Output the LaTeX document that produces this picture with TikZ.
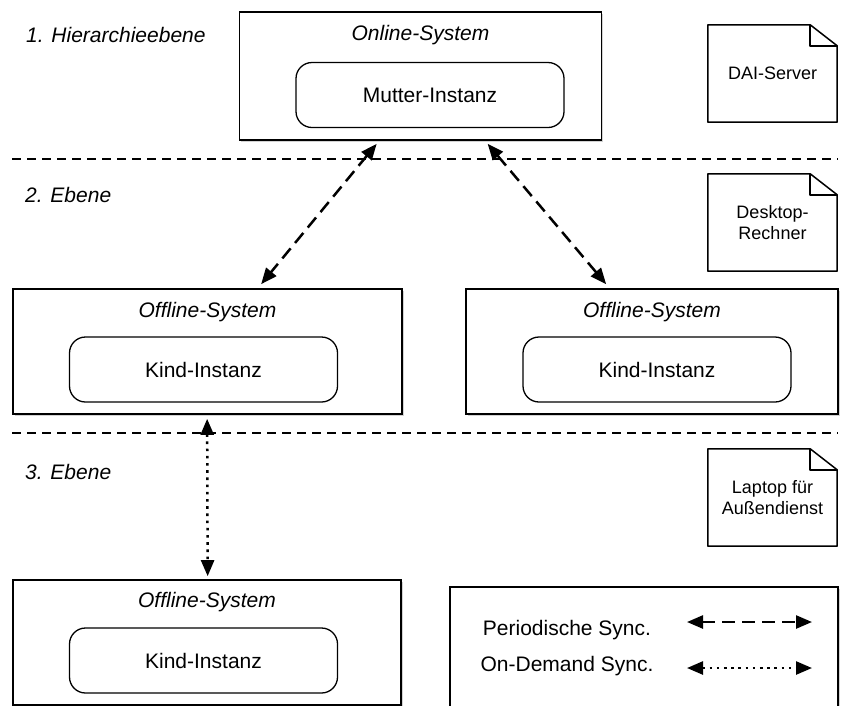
\documentclass[tikz,border=0pt]{standalone}
\usepackage{fontspec}
\setmainfont{Liberation Sans}
\usetikzlibrary{arrows.meta,shadows,calc}

\tikzset{
  sysbox/.style={draw, line width=1.7pt, fill=white, minimum width=#1, minimum height=125pt,
    inner sep=0pt, drop shadow={shadow xshift=1.6pt, shadow yshift=-1.8pt, opacity=0.35}},
  instbox/.style={draw, line width=1.3pt, fill=white, rounded corners=16pt, minimum width=268pt,
    minimum height=65pt, inner sep=0pt, font=\fontsize{21}{25}\selectfont},
  systitle/.style={font=\fontsize{21}{25}\selectfont\itshape, inner sep=0pt},
  levellabel/.style={font=\fontsize{21}{25}\selectfont\itshape, anchor=west, inner sep=0pt},
  docbox/.style={draw=none, minimum width=129pt, minimum height=97pt, inner sep=0pt, align=center,
    font=\fontsize{18}{21.5}\selectfont},
  legtext/.style={font=\fontsize{21}{25}\selectfont, inner sep=0pt},
  sep/.style={line width=1.2pt, dash pattern=on 9pt off 6pt},
  tipped/.style={line width=2.5pt, {Triangle[length=16pt,width=13pt]}-{Triangle[length=16pt,width=13pt]}},
  periodic/.style={tipped, dash pattern=on 13pt off 7pt},
  ondemand/.style={tipped, dash pattern=on 2.6pt off 4.6pt},
}

\begin{document}
\begin{tikzpicture}[x=1pt, y=-1pt]
\useasboundingbox (0,0) rectangle (845,705);
\clip (0,0) rectangle (845,705);
\fill[white] (0,0) rectangle (845,705);

% level separators
\coordinate (s1l) at (12,159);  \coordinate (s1r) at (838,159);
\coordinate (s2l) at (12,433);  \coordinate (s2r) at (838,433);
\draw[sep] (s1l) -- (s1r);
\draw[sep] (s2l) -- (s2r);

% level labels
\node[levellabel] (lvl1) at (26,35)  {1. Hierarchieebene};
\node[levellabel] (lvl2) at (25,195) {2. Ebene};
\node[levellabel] (lvl3) at (25,472) {3. Ebene};

% online system with parent instance
\node[sysbox=362pt, minimum height=128pt] (online) at (420.5,76) {};
\node[systitle] (onlinet) at (420.5,35) {Online-System};
\node[instbox] (mutter) at (430,95) {Mutter-Instanz};

% offline systems on level 2
\node[sysbox=389pt] (offl) at (207.5,351.5) {};
\node[systitle] (offlt) at (207.5,312) {Offline-System};
\node[instbox] (kindl) at (203.5,369.5) {Kind-Instanz};

\node[sysbox=372pt] (offr) at (652,351.5) {};
\node[systitle] (offrt) at (652,312) {Offline-System};
\node[instbox] (kindr) at (657,369.5) {Kind-Instanz};

% offline system on level 3
\node[sysbox=388pt] (offb) at (207,642.5) {};
\node[systitle] (offbt) at (207,602) {Offline-System};
\node[instbox] (kindb) at (203.5,660.5) {Kind-Instanz};

% legend box
\node[sysbox=388pt] (legend) at (644,649.5) {};
\node[legtext] (legper) at (567,630) {Periodische Sync.};
\node[legtext] (legond) at (567,666) {On-Demand Sync.};
\coordinate (lpa) at (687,622); \coordinate (lpb) at (812,622);
\coordinate (loa) at (687,668); \coordinate (lob) at (812,668);
\draw[periodic] (lpa) -- (lpb);
\draw[ondemand] (loa) -- (lob);

% hardware documents
\node[docbox] (dai)  at (772.5,73.5) {DAI-Server};
\node[docbox] (desk) at (772.5,222.5) {Desktop-\\Rechner};
\node[docbox] (lap)  at (772.5,497.5) {Laptop für\\Außendienst};
\foreach \d in {dai,desk,lap}{
  \draw[line width=1.5pt, line join=round]
    (\d.north west) -- ($(\d.north east)+(-27,0)$) -- ($(\d.north east)+(0,21)$)
    -- (\d.south east) -- (\d.south west) -- cycle;
  \draw[line width=1.5pt, line join=round]
    ($(\d.north east)+(-27,0)$) -- ($(\d.north east)+(-27,21)$) -- ($(\d.north east)+(0,21)$);
}

% synchronisation connectors
\draw[periodic] ($(online.south west)+(138,3)$) -- ($(offl.north west)+(249,-4)$);
\draw[periodic] ($(online.south west)+(249,3)$) -- ($(offr.north west)+(141,-4)$);
\draw[ondemand] ($(offl.south west)+(195,4)$) -- ($(offb.north west)+(195.5,-3)$);
\end{tikzpicture}
\end{document}
